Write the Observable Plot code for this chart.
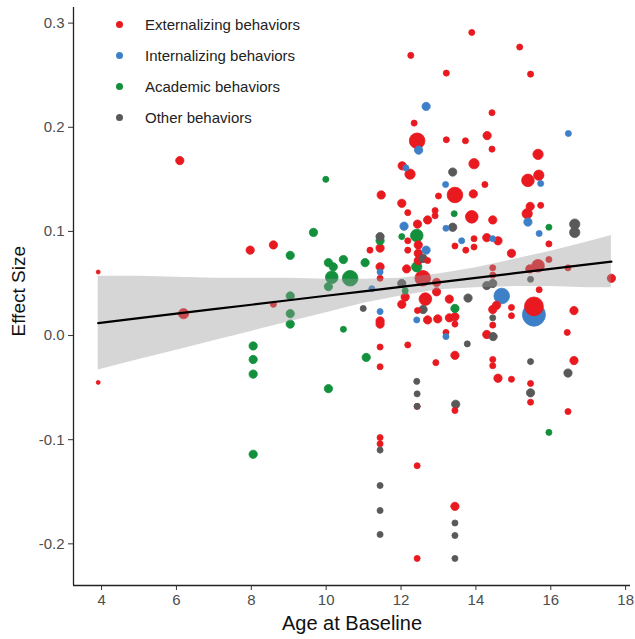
<!DOCTYPE html>
<html>
<head>
<meta charset="utf-8">
<script src="https://cdn.jsdelivr.net/npm/d3@7"></script>
<script src="https://cdn.jsdelivr.net/npm/@observablehq/plot@0.6"></script>
<style>
  html, body { margin: 0; padding: 0; background: #fff; }
  #wrap { position: relative; width: 635px; height: 639px; font-family: "Liberation Sans", Arial, sans-serif; }
  #legend { position: absolute; left: 0; top: 0; }
  .row { position: absolute; left: 116px; height: 20px; display: flex; align-items: center; white-space: nowrap; }
  .sw { width: 7px; height: 7px; border-radius: 50%; margin-right: 22px; }
  .lab { font-size: 15px; color: #222; }
  svg text { font-family: "Liberation Sans", Arial, sans-serif; }
</style>
</head>
<body>
<div id="wrap"><div id="legend"></div></div>
<script>
// ---- data (age at baseline, effect size, weight) ----
const groups = ["Externalizing behaviors", "Internalizing behaviors", "Academic behaviors", "Other behaviors"];
const groupColors = ["#e8191f", "#3d80c8", "#12903c", "#595959"];

const externalizing = [
[3.91,0.061,3],[3.91,-0.045,3],[6.09,0.168,13],[6.19,0.021,20],[7.97,0.082,13],[8.59,0.087,13],[8.59,0.030,7],
[13.89,0.291,7],[15.17,0.277,7],[12.26,0.269,7],[13.21,0.252,7],[15.46,0.251,7],[14.43,0.214,7],[12.35,0.204,7],
[12.43,0.187,46],[13.21,0.188,7],[13.72,0.187,7],[14.30,0.192,13],[14.43,0.179,7],[15.66,0.174,20],[12.03,0.163,13],
[13.95,0.165,20],[12.24,0.155,20],[15.39,0.149,30],[15.68,0.154,20],[14.24,0.145,7],[13.44,0.135,46],[13.93,0.136,13],
[13.00,0.134,7],[11.47,0.135,13],[12.02,0.127,13],[12.18,0.118,7],[12.91,0.120,7],[12.91,0.115,7],[13.89,0.114,30],
[14.45,0.111,13],[15.45,0.124,13],[15.73,0.125,7],[15.37,0.117,20],[12.71,0.111,13],[12.44,0.107,13],[15.95,0.088,7],
[14.29,0.094,13],[14.59,0.091,13],[13.95,0.093,7],[13.95,0.085,7],[13.44,0.086,7],[13.73,0.082,7],[12.18,0.091,7],[12.18,0.082,7],
[12.46,0.087,13],[12.46,0.079,13],[12.46,0.072,13],[12.71,0.072,7],[11.17,0.082,7],[11.44,0.084,13],[14.95,0.079,13],
[11.44,0.066,13],[11.44,0.055,7],[12.15,0.064,13],[12.58,0.055,46],[12.95,0.051,13],[12.95,0.042,13],[14.45,0.065,7],
[14.45,0.058,7],[15.66,0.067,30],[15.44,0.064,13],[15.95,0.073,7],[16.46,0.065,7],[17.62,0.055,13],[12.11,0.037,13],
[12.02,0.030,13],[12.65,0.035,30],[13.29,0.035,13],[15.69,0.044,7],[15.55,0.028,67],[16.62,0.024,13],[14.55,0.029,13],
[14.45,0.025,13],[14.95,0.027,7],[14.95,0.019,7],[14.45,0.010,7],[14.29,0.001,13],[16.44,0.003,7],[11.44,0.014,13],
[11.44,0.011,13],[12.44,0.024,7],[12.71,0.015,13],[12.98,0.016,13],[13.29,0.017,13],[13.44,0.018,13],[13.44,0.011,7],
[13.20,0.003,7],[12.18,-0.009,7],[11.44,-0.011,7],[11.44,-0.030,7],[12.93,-0.026,7],[13.44,-0.019,13],[14.45,-0.023,7],
[14.45,-0.029,7],[16.62,-0.024,13],[14.59,-0.041,13],[14.95,-0.042,7],[15.46,-0.046,7],[15.46,-0.064,7],[16.46,-0.073,7],
[13.44,-0.072,7],[12.43,-0.068,7],[11.44,-0.098,7],[11.44,-0.104,7],[12.43,-0.125,7],[13.44,-0.164,13],[12.43,-0.214,7]
];
const internalizing = [
[12.67,0.220,13],[16.47,0.194,7],[12.47,0.178,13],[12.13,0.161,7],[15.73,0.146,7],[13.19,0.145,7],[15.39,0.109,13],
[12.08,0.105,13],[13.20,0.103,7],[13.62,0.091,7],[14.45,0.093,7],[15.69,0.098,7],[12.67,0.082,13],[11.22,0.045,7],
[14.69,0.038,46],[15.55,0.020,100],[11.44,0.023,7],[12.42,0.015,7],[13.20,-0.001,7],[11.44,0.061,7]
];
const academic = [
[9.99,0.150,7],[9.66,0.099,13],[9.04,0.077,13],[10.06,0.070,13],[10.19,0.066,13],[10.15,0.056,30],[10.06,0.047,13],
[9.04,0.038,13],[9.04,0.021,13],[9.04,0.011,13],[8.05,-0.010,13],[8.05,-0.023,13],[8.05,-0.037,13],[10.06,-0.051,13],
[8.05,-0.114,13],[10.46,0.073,13],[11.04,0.070,13],[10.64,0.055,46],[10.46,0.006,7],[11.07,-0.021,13],[11.44,0.091,13],
[12.02,0.095,7],[12.42,0.096,30],[12.42,0.066,20],[13.42,0.117,7],[15.95,0.104,7],[13.44,0.026,13],[12.11,0.043,7],[15.95,-0.093,7]
];
const other = [
[13.38,0.157,13],[13.38,0.104,13],[11.44,0.095,13],[16.64,0.107,20],[16.64,0.099,20],[12.59,0.074,13],[15.46,0.054,7],
[12.02,0.050,13],[14.29,0.048,13],[14.45,0.050,13],[13.79,0.036,13],[10.99,0.026,7],[12.59,0.025,13],[14.45,0.017,7],
[14.46,-0.001,13],[13.77,-0.008,7],[15.46,-0.025,7],[16.46,-0.036,13],[12.42,-0.044,7],[12.43,-0.056,7],[12.43,-0.068,7],
[13.46,-0.066,13],[15.46,-0.055,13],[11.44,-0.110,7],[11.44,-0.144,7],[11.44,-0.168,7],[11.44,-0.191,7],[13.44,-0.180,7],
[13.44,-0.192,7],[13.44,-0.214,7]
];

// fitted regression line and its confidence band
const fitAge  = [3.91, 5, 6, 7, 8, 9, 10, 11, 12, 13, 14, 15, 16, 17, 17.62];
const fitMid  = [0.012,0.0167,0.0210,0.0253,0.0296,0.0339,0.0382,0.0425,0.0468,0.0511,0.0554,0.0597,0.0640,0.0683,0.0710];
const fitLow  = [-0.033,-0.023,-0.014,-0.005,0.004,0.013,0.022,0.031,0.038,0.044,0.046,0.047,0.047,0.046,0.046];
const fitHigh = [0.057,0.057,0.056,0.055,0.055,0.055,0.054,0.054,0.055,0.059,0.065,0.073,0.081,0.090,0.096];

const xTicks = [4, 6, 8, 10, 12, 14, 16, 18];
const yTicks = [-0.2, -0.1, 0.0, 0.1, 0.2, 0.3];
const xDomain = [3.25, 18.13];
const yDomain = [-0.24, 0.315];

// ---- build tables ----
const series = [externalizing, internalizing, academic, other];
const points = series.flatMap((arr, gi) => arr.map(([age, es, w]) => ({age, es, w, group: groups[gi]})));
const fit = fitAge.map((a, i) => ({age: a, mid: fitMid[i], lo: fitLow[i], hi: fitHigh[i]}));

const chart = Plot.plot({
  width: 635,
  height: 639,
  marginLeft: 73,
  marginRight: 5,
  marginTop: 7,
  marginBottom: 54,
  style: {fontFamily: "Liberation Sans, Arial, sans-serif", background: "#fff"},
  x: {domain: xDomain},
  y: {domain: yDomain},
  r: {type: "sqrt", domain: [0, 100], range: [0, 11.5]},
  color: {domain: groups, range: groupColors},
  marks: [
    Plot.dot(points, {x: "age", y: "es", r: "w", fill: "group", stroke: "group", strokeWidth: 0.8}),
    Plot.areaY(fit, {x: "age", y1: "lo", y2: "hi", fill: "#999999", fillOpacity: 0.4}),
    Plot.line(fit, {x: "age", y: "mid", stroke: "#000", strokeWidth: 2.2}),
    Plot.ruleX([xDomain[0]], {stroke: "#222", strokeWidth: 1.3}),
    Plot.ruleY([yDomain[0]], {stroke: "#222", strokeWidth: 1.3}),
    Plot.axisX({ticks: xTicks, tickSize: 5, tickPadding: 4, fontSize: 15, stroke: "#333", fill: "#4d4d4d", label: null}),
    Plot.axisY({ticks: yTicks, tickSize: 5, tickPadding: 4, fontSize: 15, stroke: "#333", fill: "#4d4d4d", label: null,
                tickFormat: d => d.toFixed(1)}),
    Plot.text(["Age at Baseline"], {frameAnchor: "bottom", dy: 44, fontSize: 20, fill: "#111"}),
    Plot.text(["Effect Size"], {frameAnchor: "left", dx: -55, dy: 40, rotate: -90, fontSize: 19, fill: "#111"})
  ]
});
document.getElementById("wrap").prepend(chart);

// legend
const legend = document.getElementById("legend");
groups.forEach((g, i) => {
  const row = document.createElement("div");
  row.className = "row";
  row.style.top = (14 + i * 31) + "px";
  row.innerHTML = `<span class="sw" style="background:${groupColors[i]}"></span><span class="lab">${g}</span>`;
  legend.appendChild(row);
});
</script>
</body>
</html>
